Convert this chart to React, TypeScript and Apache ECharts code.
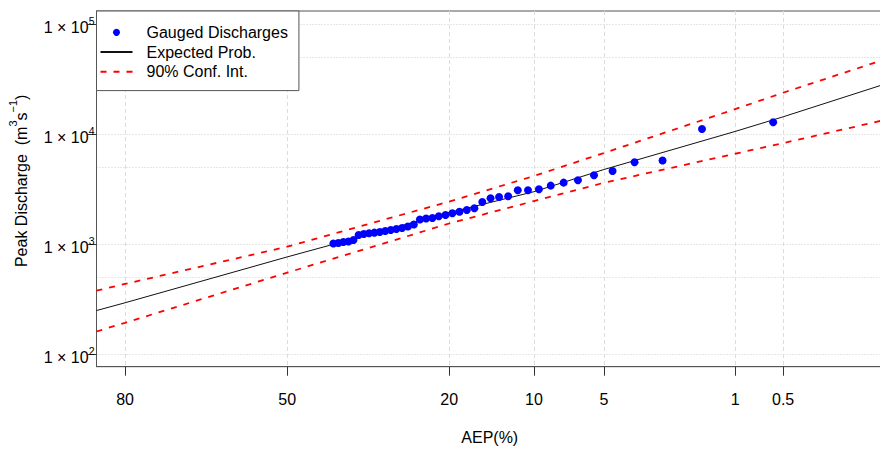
import React, { useEffect, useRef } from "react";
import * as echarts from "echarts";

// ---- data ----
const aepTicks = [80, 50, 20, 10, 5, 1, 0.5];
const yTickValues = [100, 1000, 10000, 100000];
const yGridValues = [100, 500, 1000, 5000, 10000, 50000, 100000];

const gaugedAep = [
  0.58, 1.56, 2.56, 3.56, 4.55, 5.55, 6.55, 7.55, 8.55, 9.55, 10.55, 11.55,
  12.55, 13.55, 14.54, 15.54, 16.54, 17.54, 18.54, 19.54, 20.54, 21.54, 22.53,
  23.53, 24.53, 25.53, 26.53, 27.53, 28.53, 29.52, 30.52, 31.52, 32.52, 33.52,
  34.52, 35.52, 36.52, 37.51, 38.51, 39.51, 40.51,
];
const gaugedQ = [
  12770, 11100, 5740, 5530, 4610, 4215, 3795, 3610, 3390, 3140, 3080, 3075,
  2716, 2673, 2600, 2410, 2113, 2037, 1966, 1900, 1835, 1786, 1722, 1705, 1670,
  1504, 1442, 1397, 1368, 1340, 1312, 1285, 1267, 1250, 1233, 1208, 1087, 1054,
  1042, 1020, 1010,
];

const curveAep = [83.9, 80, 50, 20, 10, 5, 1, 0.5, 0.1];
const expectedQ = [248, 292, 762, 1930, 2985, 4750, 10540, 14320, 27900];
const upperQ = [376, 433, 944, 2430, 4150, 6710, 16800, 23700, 46800];
const lowerQ = [160, 192, 548, 1535, 2455, 3600, 6610, 8260, 13250];

const xMinZ = -0.99;
const xMaxZ = 3.0945;
const yMin = 76.6;
const yMax = 131200;

// normal quantile (Acklam) for the probability axis
function qnorm(p: number): number {
  const a = [-3.969683028665376e1, 2.209460984245205e2, -2.759285104469687e2, 1.38357751867269e2, -3.066479806614716e1, 2.506628277459239];
  const b = [-5.447609879822406e1, 1.615858368580409e2, -1.556989798598866e2, 6.680131188771972e1, -1.328068155288572e1];
  const c = [-7.784894002430293e-3, -3.223964580411365e-1, -2.400758277161838, -2.549732539343734, 4.374664141464968, 2.938163982698783];
  const d = [7.784695709041462e-3, 3.224671290700398e-1, 2.445134137142996, 3.754408661907416];
  const pl = 0.02425;
  if (p < pl) {
    const q = Math.sqrt(-2 * Math.log(p));
    return (((((c[0] * q + c[1]) * q + c[2]) * q + c[3]) * q + c[4]) * q + c[5]) / ((((d[0] * q + d[1]) * q + d[2]) * q + d[3]) * q + 1);
  }
  if (p <= 1 - pl) {
    const q = p - 0.5;
    const r = q * q;
    return ((((((a[0] * r + a[1]) * r + a[2]) * r + a[3]) * r + a[4]) * r + a[5]) * q) / (((((b[0] * r + b[1]) * r + b[2]) * r + b[3]) * r + b[4]) * r + 1);
  }
  const q = Math.sqrt(-2 * Math.log(1 - p));
  return -(((((c[0] * q + c[1]) * q + c[2]) * q + c[3]) * q + c[4]) * q + c[5]) / ((((d[0] * q + d[1]) * q + d[2]) * q + d[3]) * q + 1);
}
const aepToZ = (aep: number) => qnorm(1 - aep / 100);

const FONT = "'Liberation Sans', Arial, sans-serif";

export default function App() {
  const ref = useRef<HTMLDivElement>(null);
  useEffect(() => {
    if (!ref.current) return;
    const chart = echarts.init(ref.current, undefined, { renderer: "svg" });
    const xTickZ = aepTicks.map(aepToZ);
    const curve = (vals: number[]) => curveAep.map((a, i) => [aepToZ(a), vals[i]]);
    const redDash = { color: "#ff0000", width: 1.8, type: [6, 7] as any };
    const noSymbol = { color: "transparent", borderWidth: 0, opacity: 0 };
    chart.setOption({
      animation: false,
      backgroundColor: "#ffffff",
      textStyle: { fontFamily: FONT },
      grid: {
        left: 96.5,
        top: 11,
        right: -3,
        bottom: 83.3,
        show: true,
        borderColor: "#555",
        borderWidth: 1,
        backgroundColor: "transparent",
        containLabel: false,
        outerBoundsMode: "none",
      },
      legend: {
        show: true,
        data: [
          { name: "Gauged Discharges" },
          { name: "Expected Prob.", itemStyle: noSymbol },
          { name: "90% Conf. Int.", itemStyle: noSymbol },
        ],
        orient: "vertical",
        left: 96.5,
        top: 11,
        itemWidth: 32,
        itemHeight: 7,
        itemGap: 0,
        padding: [11.5, 11, 9, 3],
        borderColor: "#555",
        borderWidth: 1,
        borderRadius: 0,
        backgroundColor: "#ffffff",
        selectedMode: false,
        textStyle: {
          fontSize: 16,
          lineHeight: 19.7,
          color: "#000",
          fontFamily: FONT,
          padding: [0, 0, 0, 9],
        },
      },
      xAxis: {
        type: "value",
        min: xMinZ,
        max: xMaxZ,
        name: "AEP(%)",
        nameLocation: "middle",
        nameGap: 63,
        nameMoveOverlap: false,
        nameTextStyle: { fontSize: 16, color: "#000", fontFamily: FONT },
        axisLine: { show: true, onZero: false, lineStyle: { color: "#555", width: 1 } },
        axisTick: { show: true, length: 9, customValues: xTickZ, lineStyle: { color: "#333" } },
        axisLabel: {
          show: true,
          customValues: xTickZ,
          margin: 25,
          fontSize: 16,
          color: "#000",
          fontFamily: FONT,
          formatter: (v: number) => {
            for (const t of aepTicks) if (Math.abs(aepToZ(t) - v) < 1e-6) return String(t);
            return "";
          },
        },
        splitLine: { show: true, lineStyle: { color: "#dcdcdc", width: 1, type: [4, 3] as any } },
      },
      yAxis: [
        {
          type: "log",
          logBase: 10,
          min: yMin,
          max: yMax,
          name: "{n|Peak Discharge  (m}{s|3}{n|s}{s|−1}{n|)}",
          nameLocation: "middle",
          nameGap: 70,
          nameMoveOverlap: false,
          nameTextStyle: {
            color: "#000",
            fontFamily: FONT,
            padding: [0, 0, 0, 16],
            rich: {
              n: { fontSize: 16, lineHeight: 16, padding: [6, 0, 0, 0], color: "#000", fontFamily: FONT },
              s: { fontSize: 11, lineHeight: 11, padding: [0, 0, 11, 0], color: "#000", fontFamily: FONT },
            },
          },
          axisLine: { show: true, onZero: false, lineStyle: { color: "#555", width: 1 } },
          axisTick: { show: true, length: 9, customValues: yTickValues, lineStyle: { color: "#333" } },
          axisLabel: {
            show: true,
            customValues: yTickValues,
            margin: 2,
            color: "#000",
            fontFamily: FONT,
            formatter: (v: number) => "{b|1 × 10}{s|" + Math.round(Math.log10(v)) + "}",
            rich: {
              b: { fontSize: 16, lineHeight: 16, padding: [7, 0, 0, 0], color: "#000", fontFamily: FONT },
              s: { fontSize: 10.5, lineHeight: 10.5, padding: [3.75, 0, 8.75, 0], color: "#000", fontFamily: FONT },
            },
          },
          splitLine: { show: false },
        },
        {
          type: "log",
          logBase: 10,
          min: yMin,
          max: yMax,
          position: "left",
          axisLine: { show: false, onZero: false },
          axisTick: { show: false, customValues: yGridValues },
          axisLabel: { show: false },
          splitLine: { show: true, lineStyle: { color: "#cfcfcf", width: 1, type: [1, 2] as any } },
        },
      ],
      series: [
        {
          name: "90% Conf. Int.",
          type: "line",
          data: curve(upperQ),
          symbol: "none",
          lineStyle: redDash,
          itemStyle: { color: "#ff0000" },
          z: 2,
        },
        {
          name: "90% Conf. Int.",
          type: "line",
          data: curve(lowerQ),
          symbol: "none",
          lineStyle: redDash,
          itemStyle: { color: "#ff0000" },
          z: 2,
        },
        {
          name: "Expected Prob.",
          type: "line",
          data: curve(expectedQ),
          symbol: "none",
          lineStyle: { color: "#111", width: 1 },
          itemStyle: { color: "#111" },
          z: 3,
        },
        {
          name: "Gauged Discharges",
          type: "scatter",
          data: gaugedAep.map((a, i) => [aepToZ(a), gaugedQ[i]]),
          symbol: "circle",
          symbolSize: 8,
          itemStyle: { color: "#0000ff", opacity: 1 },
          z: 4,
        },
      ],
    });
    return () => chart.dispose();
  }, []);
  return (
    <div
      ref={ref}
      style={{ position: "absolute", left: 0, top: 0, width: 880, height: 450, background: "#fff" }}
    />
  );
}
